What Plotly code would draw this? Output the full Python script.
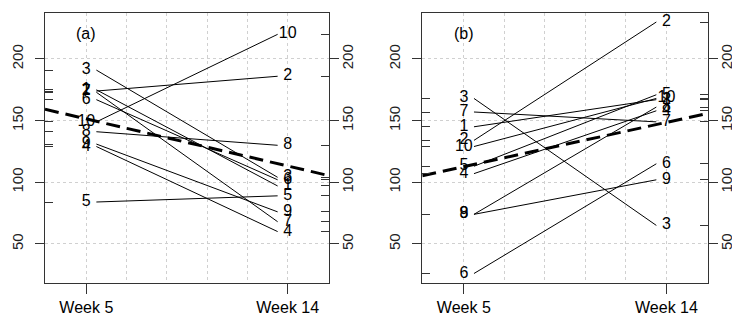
import numpy as np
import plotly.graph_objects as go

# ---- data ----
subjects = ["1", "2", "3", "4", "5", "6", "7", "8", "9", "10"]
time_labels = ["Week 5", "Week 14"]
panel_titles = ["(a)", "(b)"]

a_week5 = [175, 174, 191, 129, 84, 167, 173, 141, 131, 149]
a_week14 = [97, 186, 104, 60, 89, 102, 68, 130, 76, 220]

b_week5 = [145, 134, 168, 107, 113, 26, 157, 74, 74, 129]
b_week14 = [167, 230, 65, 158, 171, 115, 149, 161, 102, 168]

y_ticks = [50, 100, 150, 200]
grid_x = [1.2, 1.4, 1.6, 1.8]

FONT = "Liberation Sans, Arial, sans-serif"
XR = [0.795, 2.205]
YR = [18.3, 237.3]
GRID = "#d0d0d0"

fig = go.Figure()

panels = [
    (a_week5, a_week14, "x", "y", "y2"),
    (b_week5, b_week14, "x2", "y3", "y4"),
]

for k, (w5, w14, xa, ya, ya_r) in enumerate(panels):
    for v5, v14 in zip(w5, w14):
        fig.add_trace(go.Scatter(x=[1.05, 1.95], y=[v5, v14], mode="lines",
                                 line=dict(color="black", width=1),
                                 xaxis=xa, yaxis=ya, hoverinfo="skip",
                                 showlegend=False))
    m5, m14 = float(np.mean(w5)), float(np.mean(w14))
    slope = m14 - m5
    xs = np.array(XR)
    ys = m5 + slope * (xs - 1)
    fig.add_trace(go.Scatter(x=xs, y=ys, mode="lines",
                             line=dict(color="black", width=3, dash="14px,7px"),
                             xaxis=xa, yaxis=ya, hoverinfo="skip",
                             showlegend=False))
    fig.add_trace(go.Scatter(x=[1] * len(w5), y=w5, mode="text", text=subjects,
                             textfont=dict(size=16, color="black", family=FONT),
                             textposition="middle center",
                             xaxis=xa, yaxis=ya, hoverinfo="skip",
                             showlegend=False))
    fig.add_trace(go.Scatter(x=[2] * len(w14), y=w14, mode="text", text=subjects,
                             textfont=dict(size=16, color="black", family=FONT),
                             textposition="middle center",
                             xaxis=xa, yaxis=ya, hoverinfo="skip",
                             showlegend=False))
    fig.add_trace(go.Scatter(x=[1], y=[100], mode="markers",
                             marker=dict(opacity=0), xaxis=xa, yaxis=ya_r,
                             hoverinfo="skip", showlegend=False))
    fig.add_annotation(x=1, y=221, xref=xa, yref=ya, text=panel_titles[k],
                       showarrow=False, font=dict(size=16, color="black", family=FONT))

W, H = 740, 320
doms = [[37 / W, 321 / W], [414.3 / W, 700 / W]]
ydom = [(H - 275) / H, (H - 5) / H]

def xaxis_cfg(dom, anchor):
    return dict(domain=dom, anchor=anchor, range=XR, tickmode="array",
                tickvals=[1, 2], ticktext=time_labels, ticks="outside", ticklen=10,
                tickcolor="#333", showline=True, linecolor="#333", mirror=True,
                showgrid=True, gridcolor=GRID, griddash="dot", zeroline=False,
                tickfont=dict(size=16, color="black", family=FONT),
                minor=dict(tickmode="array", tickvals=grid_x, showgrid=True,
                           gridcolor=GRID, griddash="dot", ticks=""))

def yaxis_cfg(anchor, rug, side="left", overlay=None, standoff=4):
    d = dict(domain=ydom, anchor=anchor, range=YR, tickmode="array",
             tickvals=y_ticks, ticks="outside", ticklen=9, tickcolor="#333",
             tickangle=-90, side=side, zeroline=False,
             tickfont=dict(size=15, color="#222", family=FONT),
             ticklabelstandoff=standoff,
             minor=dict(tickmode="array", tickvals=rug, ticks="inside",
                        ticklen=8, tickcolor="#333", showgrid=False))
    if overlay:
        d.update(overlaying=overlay, showgrid=False, showline=False)
    else:
        d.update(showgrid=True, gridcolor=GRID, griddash="dot", showline=True,
                 linecolor="#333", mirror=True)
    return d

fig.update_layout(
    width=W, height=H, margin=dict(l=0, r=0, t=0, b=0),
    plot_bgcolor="white", paper_bgcolor="white",
    font=dict(family=FONT, color="black"),
    xaxis=xaxis_cfg(doms[0], "y"),
    yaxis=yaxis_cfg("x", a_week5, standoff=6),
    yaxis2=yaxis_cfg("x", a_week14, side="right", overlay="y", standoff=-4),
    xaxis2=xaxis_cfg(doms[1], "y3"),
    yaxis3=yaxis_cfg("x2", b_week5, standoff=6),
    yaxis4=yaxis_cfg("x2", b_week14, side="right", overlay="y3", standoff=-4),
)

fig.write_html("out.html")
